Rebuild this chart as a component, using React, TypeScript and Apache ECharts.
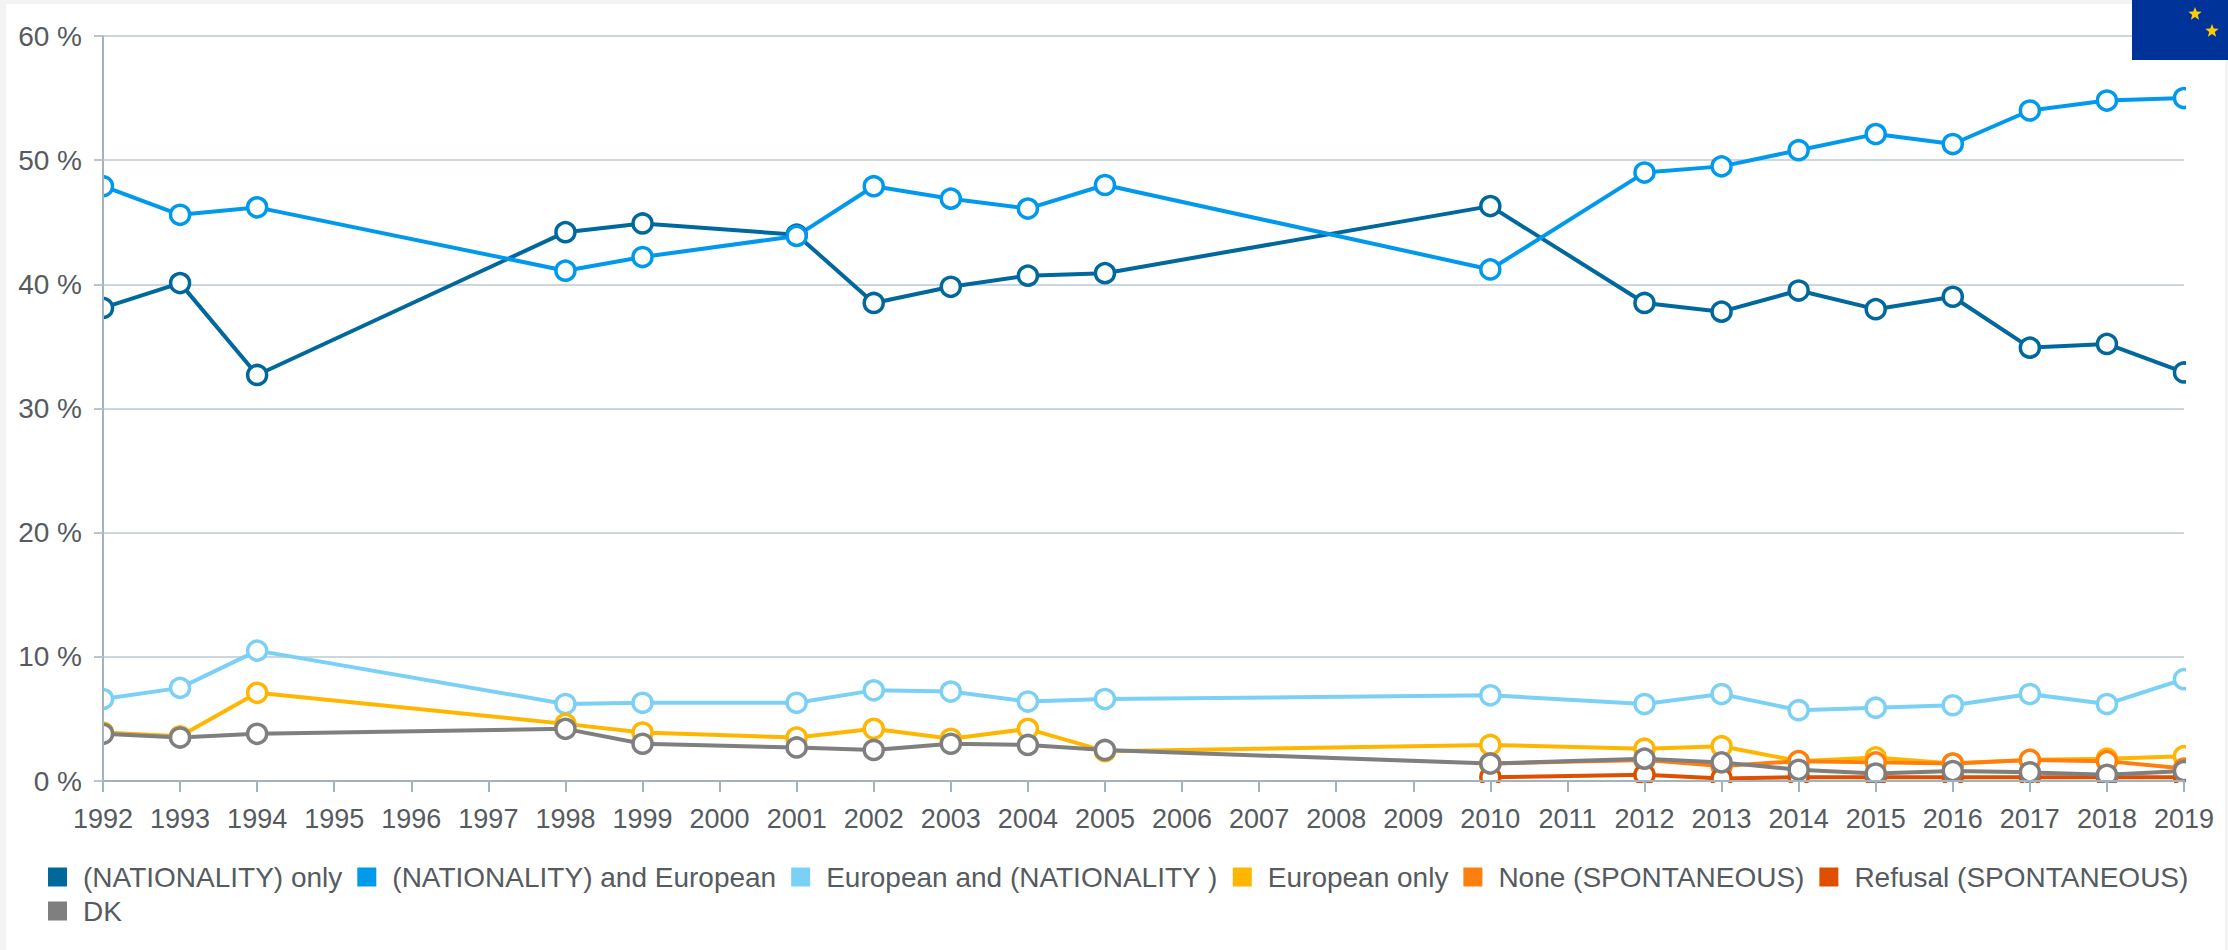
import React, { useEffect, useRef } from "react";
import * as echarts from "echarts";

const years = ["1992","1993","1994","1995","1996","1997","1998","1999","2000","2001","2002","2003","2004","2005","2006","2007","2008","2009","2010","2011","2012","2013","2014","2015","2016","2017","2018","2019"];

const nationalityOnly = [38.1,40.1,32.7,null,null,null,44.2,44.9,null,44.0,38.5,39.8,40.7,40.9,null,null,null,null,46.3,null,38.5,37.8,39.5,38.0,39.0,34.9,35.2,32.9];
const nationalityAndEuropean = [47.9,45.6,46.2,null,null,null,41.1,42.2,null,43.9,47.9,46.9,46.1,48.0,null,null,null,null,41.2,null,49.0,49.5,50.8,52.1,51.3,54.0,54.8,55.0];
const europeanAndNationality = [6.6,7.5,10.5,null,null,null,6.2,6.3,null,6.3,7.3,7.2,6.4,6.6,null,null,null,null,6.9,null,6.2,7.0,5.7,5.9,6.1,7.0,6.2,8.2];
const europeanOnly = [3.9,3.6,7.1,null,null,null,4.6,3.9,null,3.5,4.2,3.4,4.2,2.4,null,null,null,null,2.9,null,2.6,2.8,1.6,1.9,1.4,1.7,1.8,2.0];
const noneSpontaneous = [null,null,null,null,null,null,null,null,null,null,null,null,null,null,null,null,null,null,1.4,null,1.7,1.2,1.6,1.5,1.4,1.7,1.6,1.0];
const refusalSpontaneous = [null,null,null,null,null,null,null,null,null,null,null,null,null,null,null,null,null,null,0.3,null,0.5,0.2,0.3,0.3,0.3,0.3,0.3,0.3];
const dontKnow = [3.8,3.5,3.8,null,null,null,4.2,3.0,null,2.7,2.5,3.0,2.9,2.5,null,null,null,null,1.4,null,1.8,1.5,0.9,0.6,0.8,0.7,0.5,0.8];

const seriesNames = ["(NATIONALITY) only","(NATIONALITY) and European","European and (NATIONALITY )","European only","None (SPONTANEOUS)","Refusal (SPONTANEOUS)","DK"];
const seriesColors = ["#00689d","#0099ec","#7bd0f5","#ffb600","#ff7f0e","#e04e00","#7f7f7f"];
const seriesValues = [nationalityOnly,nationalityAndEuropean,europeanAndNationality,europeanOnly,noneSpontaneous,refusalSpontaneous,dontKnow];

const starPoints = (cx: number, cy: number, r: number) => {
  const pts: number[][] = [];
  for (let i = 0; i < 10; i++) {
    const a = -Math.PI / 2 + (i * Math.PI) / 5;
    const rad = i % 2 === 0 ? r : r * 0.42;
    pts.push([cx + rad * Math.cos(a), cy + rad * Math.sin(a)]);
  }
  return pts;
};

export default function App() {
  const ref = useRef<HTMLDivElement>(null);
  useEffect(() => {
    const chart = echarts.init(ref.current!, undefined, { renderer: "svg" });
    const font = "'Liberation Sans', Arial, sans-serif";
    const mask = (x: number, y: number, width: number, height: number) => ({
      type: "rect", z: 5, silent: true, shape: { x, y, width, height }, style: { fill: "#ffffff" },
    });
    chart.setOption({
      animation: false,
      backgroundColor: "#f3f3f3",
      grid: { left: 103, right: 44, top: 36, bottom: 169, containLabel: false },
      xAxis: {
        type: "category",
        data: years,
        boundaryGap: false,
        z: 10,
        axisLine: { lineStyle: { color: "#a3b3bd", width: 2 } },
        axisTick: { length: 11, lineStyle: { color: "#a3b3bd", width: 2 } },
        axisLabel: { interval: 0, color: "#555b60", fontFamily: font, fontSize: 27, margin: 24, hideOverlap: false },
        splitLine: { show: false },
      },
      yAxis: [
        {
          type: "value", min: 0, max: 60, interval: 10, z: 1,
          axisLine: { show: false }, axisTick: { show: false }, axisLabel: { show: false },
          splitLine: { show: true, lineStyle: { color: "#ccd6dd", width: 2 } },
        },
        {
          type: "value", min: 0, max: 60, interval: 10, z: 10, position: "left",
          axisLine: { show: true, lineStyle: { color: "#a3b3bd", width: 2 } },
          axisTick: { show: true, length: 9, lineStyle: { color: "#b8c5cd", width: 2 } },
          axisLabel: { color: "#555b60", fontFamily: font, fontSize: 28, margin: 21, formatter: (v: number) => `${v} %` },
          splitLine: { show: false },
        },
      ],
      legend: {
        left: 48, top: 863, width: 2165, padding: 0,
        itemWidth: 19, itemHeight: 19, itemGap: 6,
        data: seriesNames.map((name, i) => ({ name, icon: "rect", itemStyle: { color: seriesColors[i], borderWidth: 0 } })),
        textStyle: { color: "#555b60", fontFamily: font, fontSize: 28, lineHeight: 19, padding: [0, 9, 0, 11] },
      },
      series: seriesNames.map((name, i) => ({
        name,
        type: "line",
        yAxisIndex: 0,
        data: seriesValues[i],
        connectNulls: true,
        z: 2,
        clip: false,
        showAllSymbol: true,
        symbol: "circle",
        symbolSize: 19,
        itemStyle: { color: "#ffffff", borderColor: seriesColors[i], borderWidth: 3.5 },
        lineStyle: { color: seriesColors[i], width: 4 },
        color: seriesColors[i],
      })),
      graphic: [
        { type: "rect", z: -1, silent: true, shape: { x: 6, y: 4, width: 2219, height: 946 }, style: { fill: "#ffffff" } },
        mask(84, 24, 18, 772),
        mask(2186, 24, 30, 772),
        mask(84, 783, 2132, 16),
        { type: "rect", z: 20, silent: true, shape: { x: 2132, y: 0, width: 96, height: 60 }, style: { fill: "#003399" } },
        { type: "polygon", z: 21, silent: true, shape: { points: starPoints(2195, 14, 7) }, style: { fill: "#ffcc00" } },
        { type: "polygon", z: 21, silent: true, shape: { points: starPoints(2212, 31, 7) }, style: { fill: "#ffcc00" } },
      ],
    });
    return () => chart.dispose();
  }, []);
  return <div ref={ref} style={{ position: "absolute", left: 0, top: 0, width: 2228, height: 950 }} />;
}
